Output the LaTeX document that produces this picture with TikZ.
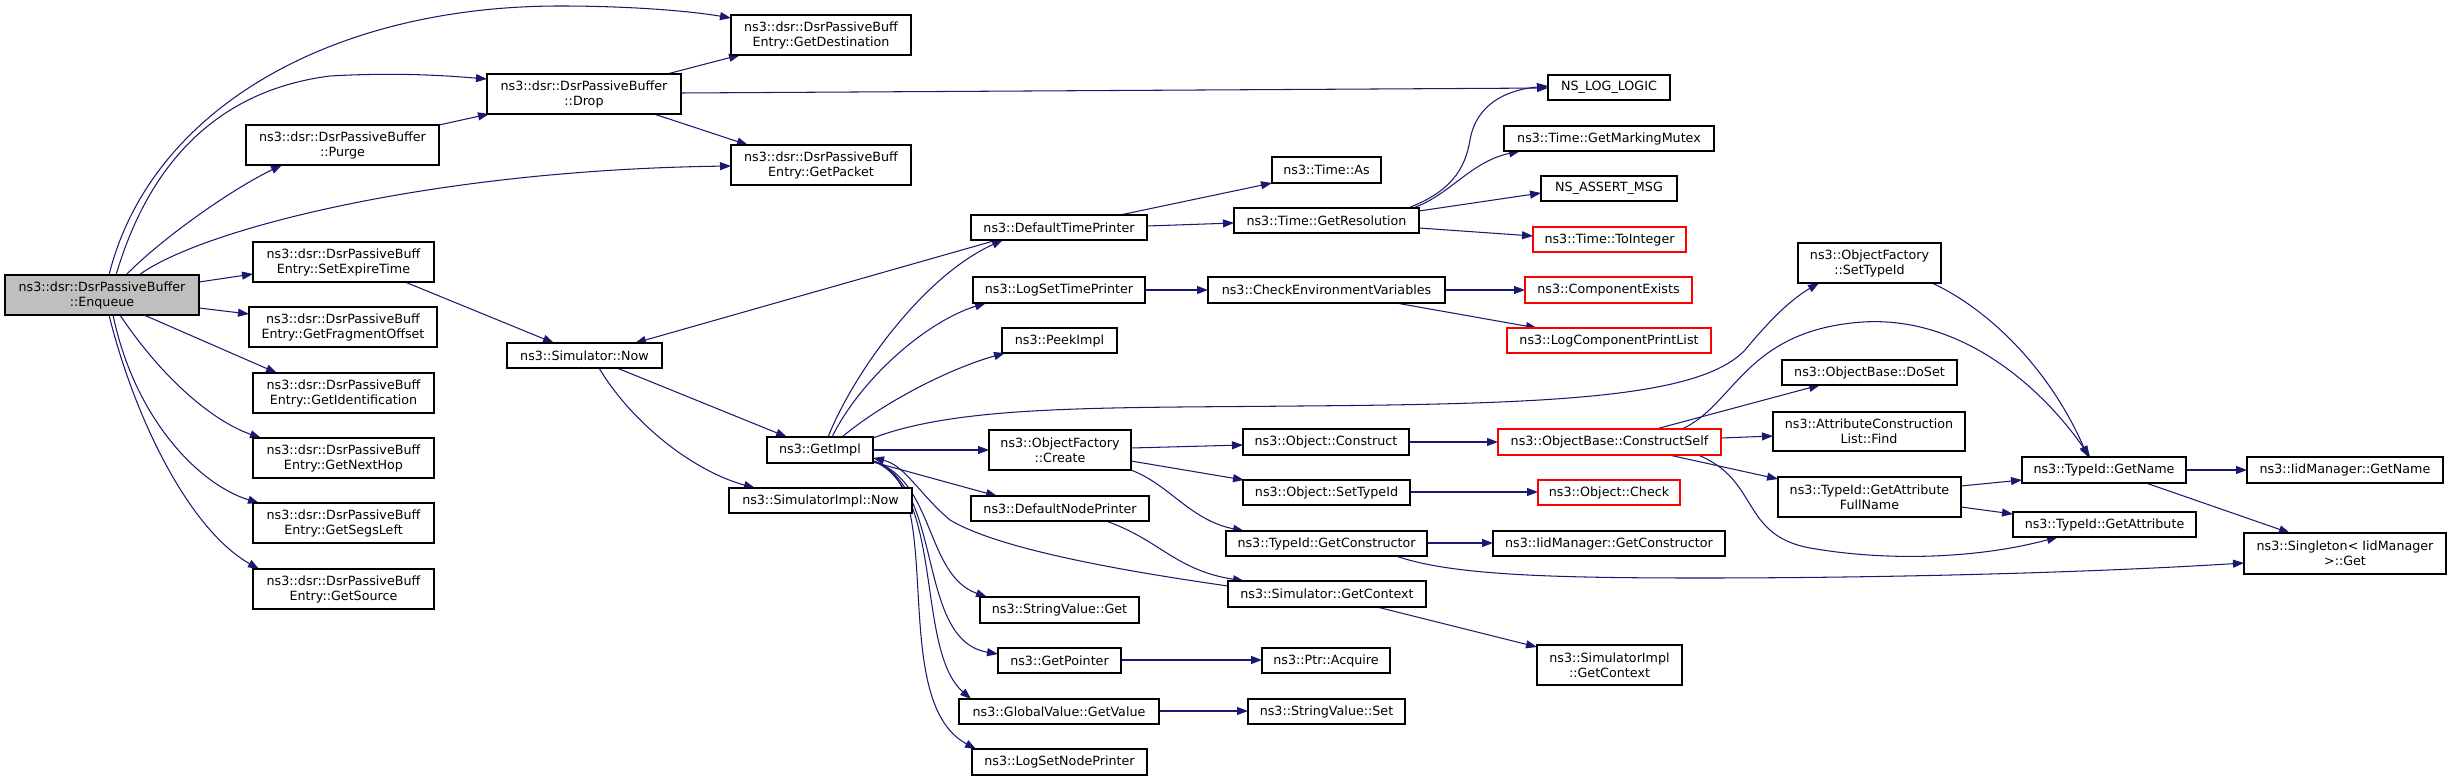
\documentclass[tikz,border=0pt]{standalone}
\usepackage{fontspec}
\setmainfont{DejaVu Sans}
\usetikzlibrary{arrows.meta,calc}
\pgfdeclarelayer{background}
\pgfsetlayers{background,main}
\definecolor{edgecol}{HTML}{191970}
\definecolor{fillgray}{HTML}{BFBFBF}
\definecolor{redline}{HTML}{FF0000}
\tikzset{
  box/.style={draw=black, line width=1.1pt, fill=white, inner sep=0pt, outer sep=0pt, align=center, font=\fontsize{12.7}{15}\selectfont},
  redbox/.style={box, draw=redline},
  graybox/.style={box, fill=fillgray},
  edge/.style={draw=edgecol, line width=1.05pt, -{Triangle[length=11pt,width=8pt]}}
}
\newcommand{\bx}[7][]{%
  \pgfmathsetmacro{\bxw}{#4-#3}\pgfmathsetmacro{\bxh}{#6-#5}%
  \pgfmathsetmacro{\bxx}{(#3+#4)/2}\pgfmathsetmacro{\bxy}{(#5+#6)/2}%
  \node[box,#1,minimum width=\bxw pt,minimum height=\bxh pt] (#2) at (\bxx,\bxy) {#7};}
\begin{document}
\begin{tikzpicture}[x=1pt,y=-1pt]
\useasboundingbox (0,0) rectangle (2452,781);
% nodes
\bx[graybox]{enq}{5}{199}{275}{315}{ns3::dsr::DsrPassiveBuffer\\::Enqueue}
\bx{getdest}{731}{911}{15}{55}{ns3::dsr::DsrPassiveBuff\\Entry::GetDestination}
\bx{drop}{487}{681}{74}{114}{ns3::dsr::DsrPassiveBuffer\\::Drop}
\bx{purge}{246}{439}{125}{165}{ns3::dsr::DsrPassiveBuffer\\::Purge}
\bx{getpacket}{731}{911}{145}{185}{ns3::dsr::DsrPassiveBuff\\Entry::GetPacket}
\bx{nslog}{1548}{1670}{75}{100}{NS\_LOG\_LOGIC}
\bx{setexp}{253}{434}{242}{282}{ns3::dsr::DsrPassiveBuff\\Entry::SetExpireTime}
\bx{getfrag}{249}{437}{307}{347}{ns3::dsr::DsrPassiveBuff\\Entry::GetFragmentOffset}
\bx{getid}{253}{434}{373}{413}{ns3::dsr::DsrPassiveBuff\\Entry::GetIdentification}
\bx{getnext}{253}{434}{438}{478}{ns3::dsr::DsrPassiveBuff\\Entry::GetNextHop}
\bx{getsegs}{253}{434}{503}{543}{ns3::dsr::DsrPassiveBuff\\Entry::GetSegsLeft}
\bx{getsrc}{253}{434}{569}{609}{ns3::dsr::DsrPassiveBuff\\Entry::GetSource}
\bx{simnow}{507}{662}{343}{368}{ns3::Simulator::Now}
\bx{simimplnow}{729}{912}{488}{513}{ns3::SimulatorImpl::Now}
\bx{getimpl}{767}{873}{437}{463}{ns3::GetImpl}
\bx{deftp}{971}{1147}{215}{240}{ns3::DefaultTimePrinter}
\bx{timeas}{1272}{1381}{157}{183}{ns3::Time::As}
\bx{getres}{1234}{1419}{208}{233}{ns3::Time::GetResolution}
\bx{mutex}{1504}{1714}{126}{151}{ns3::Time::GetMarkingMutex}
\bx{assert}{1541}{1677}{176}{201}{NS\_ASSERT\_MSG}
\bx[redbox]{toint}{1533}{1686}{227}{252}{ns3::Time::ToInteger}
\bx{logstp}{973}{1145}{277}{303}{ns3::LogSetTimePrinter}
\bx{checkenv}{1208}{1445}{277}{303}{ns3::CheckEnvironmentVariables}
\bx[redbox]{compexists}{1525}{1692}{277}{303}{ns3::ComponentExists}
\bx[redbox]{logcpl}{1507}{1711}{328}{353}{ns3::LogComponentPrintList}
\bx{peekimpl}{1002}{1117}{328}{353}{ns3::PeekImpl}
\bx{ofsettypeid}{1798}{1941}{243}{283}{ns3::ObjectFactory\\::SetTypeId}
\bx{doset}{1782}{1957}{360}{385}{ns3::ObjectBase::DoSet}
\bx{ofcreate}{989}{1131}{430}{470}{ns3::ObjectFactory\\::Create}
\bx{objconstruct}{1243}{1409}{429}{455}{ns3::Object::Construct}
\bx[redbox]{constructself}{1498}{1721}{429}{455}{ns3::ObjectBase::ConstructSelf}
\bx{acfind}{1773}{1965}{412}{451}{ns3::AttributeConstruction\\List::Find}
\bx{getattrfull}{1778}{1961}{477}{517}{ns3::TypeId::GetAttribute\\FullName}
\bx{tgetname}{2022}{2186}{457}{483}{ns3::TypeId::GetName}
\bx{iidgetname}{2247}{2443}{457}{483}{ns3::IidManager::GetName}
\bx{tgetattr}{2013}{2196}{512}{537}{ns3::TypeId::GetAttribute}
\bx{singleton}{2244}{2446}{533}{574}{ns3::Singleton< IidManager\\ >::Get}
\bx{defnp}{971}{1149}{496}{521}{ns3::DefaultNodePrinter}
\bx{objsettypeid}{1243}{1410}{480}{505}{ns3::Object::SetTypeId}
\bx[redbox]{objcheck}{1538}{1680}{480}{505}{ns3::Object::Check}
\bx{getctor}{1226}{1427}{531}{556}{ns3::TypeId::GetConstructor}
\bx{iidgetctor}{1493}{1725}{531}{556}{ns3::IidManager::GetConstructor}
\bx{simgetctx}{1228}{1426}{581}{607}{ns3::Simulator::GetContext}
\bx{strget}{980}{1139}{597}{623}{ns3::StringValue::Get}
\bx{simimplgetctx}{1537}{1682}{645}{685}{ns3::SimulatorImpl\\::GetContext}
\bx{getptr}{998}{1121}{648}{673}{ns3::GetPointer}
\bx{ptracq}{1262}{1390}{648}{673}{ns3::Ptr::Acquire}
\bx{gvgetval}{959}{1159}{699}{724}{ns3::GlobalValue::GetValue}
\bx{strset}{1248}{1405}{699}{724}{ns3::StringValue::Set}
\bx{logsnp}{972}{1147}{749}{775}{ns3::LogSetNodePrinter}
% edges
\begin{pgfonlayer}{background}
\draw[edge] ($(enq.north west)+(104,0)$) .. controls (150,110) and (330,6) .. (560,6) .. controls (630,6) and (690,11) .. ($(getdest.north west)+(0,3)$);
\draw[edge] ($(enq.north west)+(111,0)$) .. controls (150,160) and (220,90) .. (330,76) .. controls (400,72) and (450,76) .. ($(drop.north west)+(0,5)$);
\draw[edge] ($(enq.north west)+(121,0)$) .. controls (160,240) and (230,190) .. ($(purge.north west)+(36,40)$);
\draw[edge] ($(enq.north west)+(134,0)$) .. controls (200,230) and (430,170) .. ($(getpacket.north west)+(0,21)$);
\draw[edge] ($(enq.north west)+(194,7)$) -- ($(setexp.north west)+(0,32)$);
\draw[edge] ($(enq.north west)+(194,33)$) -- ($(getfrag.north west)+(0,7)$);
\draw[edge] ($(enq.north west)+(139,40)$) -- ($(getid.north west)+(24,0)$);
\draw[edge] ($(enq.north west)+(115,40)$) .. controls (160,375) and (210,420) .. ($(getnext.north west)+(8,0)$);
\draw[edge] ($(enq.north west)+(108,40)$) .. controls (135,420) and (200,485) .. ($(getsegs.north west)+(6,0)$);
\draw[edge] ($(enq.north west)+(104,40)$) .. controls (135,420) and (190,530) .. ($(getsrc.north west)+(6,0)$);
\draw[edge] ($(purge.north west)+(193,0)$) -- ($(drop.north west)+(2,40)$);
\draw[edge] ($(drop.north west)+(180,0)$) -- ($(getdest.north west)+(9,40)$);
\draw[edge] ($(drop.north west)+(194,19)$) -- ($(nslog.north west)+(0,13)$);
\draw[edge] ($(drop.north west)+(167,40)$) -- ($(getpacket.north west)+(17,0)$);
\draw[edge] ($(setexp.north west)+(152,40)$) -- ($(simnow.north west)+(47,0)$);
\draw[edge] ($(deftp.north west)+(26,25)$) -- ($(simnow.north west)+(128,0)$);
\draw[edge] ($(simnow.north west)+(110,25)$) -- ($(getimpl.north west)+(20,0)$);
\draw[edge] ($(simnow.north west)+(92,25)$) .. controls (630,420) and (690,470) .. ($(simimplnow.north west)+(26,0)$);
\draw[edge] ($(getimpl.north west)+(61,0)$) .. controls (855,370) and (925,275) .. ($(deftp.north west)+(32,25)$);
\draw[edge] ($(getimpl.north west)+(65,0)$) .. controls (860,380) and (925,322) .. ($(logstp.north west)+(13,26)$);
\draw[edge] ($(getimpl.north west)+(75,0)$) .. controls (880,405) and (945,370) .. ($(peekimpl.north west)+(3,25)$);
\draw[edge] ($(getimpl.north west)+(106,1)$) .. controls (960,405) and (1100,408) .. (1300,406) .. controls (1550,404) and (1700,398) .. (1745,350) .. controls (1770,320) and (1790,300) .. ($(ofsettypeid.north west)+(21,40)$);
\draw[edge] ($(getimpl.north west)+(106,13)$) -- ($(ofcreate.north west)+(0,20)$);
\draw[edge] ($(getimpl.north west)+(106,25)$) -- ($(defnp.north west)+(26,0)$);
\draw[edge] ($(simgetctx.north west)+(0,5)$) .. controls (1130,572) and (1000,550) .. (950,520) .. controls (920,495) and (905,465) .. ($(getimpl.north west)+(106,21)$);
\draw[edge] ($(getimpl.north west)+(106,24)$) .. controls (935,480) and (925,575) .. ($(strget.north west)+(7,0)$);
\draw[edge] ($(getimpl.north west)+(106,24)$) .. controls (945,485) and (915,640) .. ($(getptr.north west)+(0,6)$);
\draw[edge] ($(getimpl.north west)+(106,24)$) .. controls (945,490) and (915,650) .. ($(gvgetval.north west)+(12,0)$);
\draw[edge] ($(getimpl.north west)+(106,24)$) .. controls (950,480) and (885,700) .. ($(logsnp.north west)+(4,0)$);
\draw[edge] ($(ofcreate.north west)+(142,18)$) -- ($(objconstruct.north west)+(0,16)$);
\draw[edge] ($(ofcreate.north west)+(142,31)$) -- ($(objsettypeid.north west)+(1,0)$);
\draw[edge] ($(ofcreate.north west)+(142,40)$) .. controls (1170,485) and (1190,520) .. ($(getctor.north west)+(18,0)$);
\draw[edge] ($(objconstruct.north west)+(166,13)$) -- ($(constructself.north west)+(0,13)$);
\draw[edge] ($(objsettypeid.north west)+(167,12)$) -- ($(objcheck.north west)+(0,12)$);
\draw[edge] ($(getctor.north west)+(201,12)$) -- ($(iidgetctor.north west)+(0,12)$);
\draw[edge] ($(getctor.north west)+(170,25)$) .. controls (1450,575) and (1550,578) .. (1700,578) .. controls (1900,578) and (2100,572) .. ($(singleton.north west)+(0,30)$);
\draw[edge] ($(defnp.north west)+(135,25)$) .. controls (1160,540) and (1175,570) .. ($(simgetctx.north west)+(16,0)$);
\draw[edge] ($(simgetctx.north west)+(149,26)$) -- ($(simimplgetctx.north west)+(0,2)$);
\draw[edge] ($(getptr.north west)+(123,12)$) -- ($(ptracq.north west)+(0,12)$);
\draw[edge] ($(gvgetval.north west)+(200,12)$) -- ($(strset.north west)+(0,12)$);
\draw[edge] ($(deftp.north west)+(149,0)$) -- ($(timeas.north west)+(0,26)$);
\draw[edge] ($(deftp.north west)+(176,11)$) -- ($(getres.north west)+(0,15)$);
\draw[edge] ($(getres.north west)+(174,0)$) .. controls (1450,192) and (1465,170) .. (1470,140) .. controls (1476,105) and (1505,90) .. ($(nslog.north west)+(0,11)$);
\draw[edge] ($(getres.north west)+(179,0)$) .. controls (1450,195) and (1470,162) .. ($(mutex.north west)+(16,25)$);
\draw[edge] ($(getres.north west)+(185,3)$) -- ($(assert.north west)+(0,17)$);
\draw[edge] ($(getres.north west)+(185,20)$) -- ($(toint.north west)+(0,9)$);
\draw[edge] ($(logstp.north west)+(172,13)$) -- ($(checkenv.north west)+(0,13)$);
\draw[edge] ($(checkenv.north west)+(237,13)$) -- ($(compexists.north west)+(0,13)$);
\draw[edge] ($(checkenv.north west)+(188,26)$) -- ($(logcpl.north west)+(30,0)$);
\draw[edge] ($(constructself.north west)+(158,0)$) -- ($(doset.north west)+(38,25)$);
\draw[edge] ($(constructself.north west)+(223,9)$) -- ($(acfind.north west)+(0,24)$);
\draw[edge] ($(constructself.north west)+(171,26)$) -- ($(getattrfull.north west)+(0,2)$);
\draw[edge] ($(constructself.north west)+(184,0)$) .. controls (1735,405) and (1745,330) .. (1863,322) .. controls (1960,316) and (2040,385) .. ($(tgetname.north west)+(68,0)$);
\draw[edge] ($(ofsettypeid.north west)+(134,40)$) .. controls (1990,310) and (2050,370) .. ($(tgetname.north west)+(66,0)$);
\draw[edge] ($(constructself.north west)+(200,26)$) .. controls (1760,480) and (1740,535) .. (1810,548) .. controls (1890,562) and (1980,558) .. ($(tgetattr.north west)+(45,25)$);
\draw[edge] ($(getattrfull.north west)+(183,9)$) -- ($(tgetname.north west)+(0,23)$);
\draw[edge] ($(getattrfull.north west)+(183,30)$) -- ($(tgetattr.north west)+(0,2)$);
\draw[edge] ($(tgetname.north west)+(164,13)$) -- ($(iidgetname.north west)+(0,13)$);
\draw[edge] ($(tgetname.north west)+(124,26)$) -- ($(singleton.north west)+(46,0)$);
\end{pgfonlayer}
\end{tikzpicture}
\end{document}
